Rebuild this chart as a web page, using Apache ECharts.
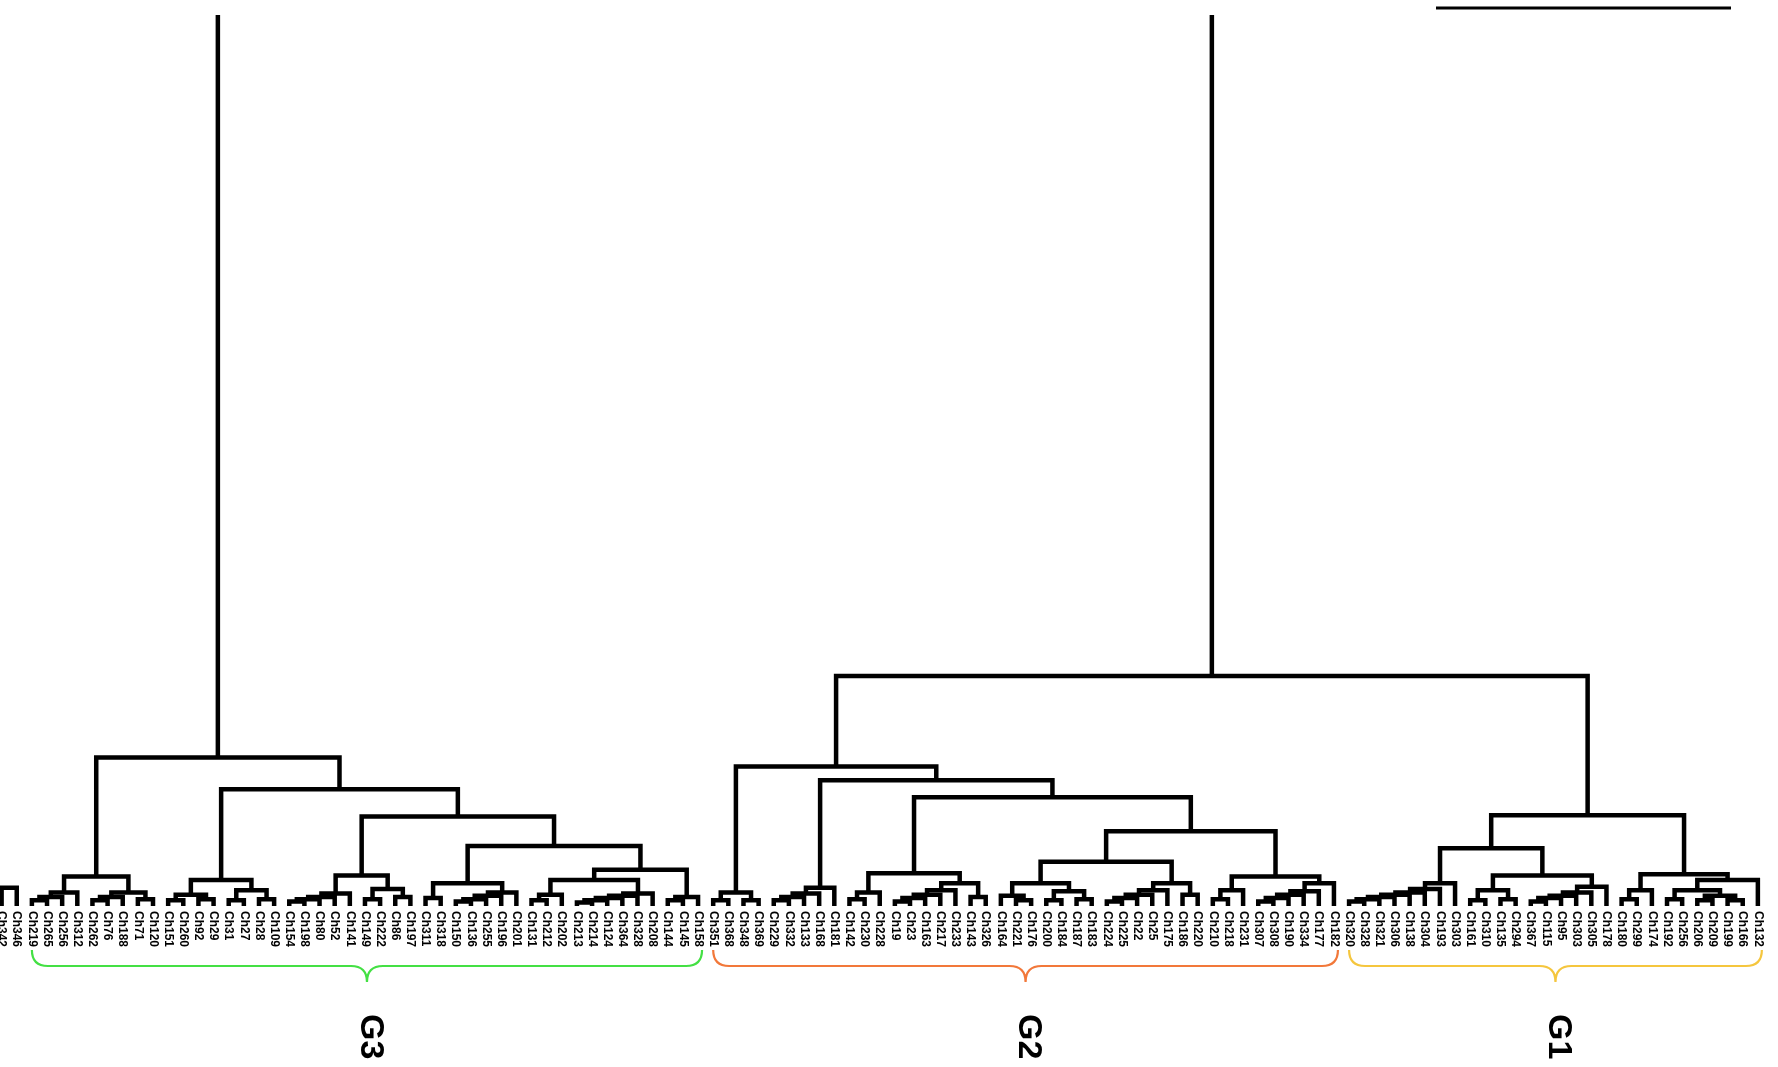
<!DOCTYPE html>
<html><head><meta charset="utf-8">
<script src="https://cdn.jsdelivr.net/npm/echarts@6/dist/echarts.min.js"></script>
<style>html,body{margin:0;padding:0;background:#fff}#c{width:1778px;height:1067px}</style>
</head><body><div id="c"></div>
<script>
// leaf labels, left to right
const leafLabels = [
 'Ch342','Ch346','Ch219','Ch265','Ch256','Ch312','Ch262','Ch76','Ch188','Ch71',
 'Ch120','Ch151','Ch260','Ch92','Ch29','Ch31','Ch27','Ch28','Ch109','Ch154',
 'Ch198','Ch80','Ch52','Ch141','Ch149','Ch222','Ch86','Ch197','Ch311','Ch318',
 'Ch150','Ch136','Ch255','Ch196','Ch201','Ch131','Ch212','Ch202','Ch213','Ch214',
 'Ch124','Ch364','Ch328','Ch208','Ch144','Ch145','Ch158',
 'Ch351','Ch368','Ch348','Ch369','Ch229','Ch332','Ch133','Ch168','Ch181','Ch142',
 'Ch230','Ch228','Ch19','Ch23','Ch163','Ch217','Ch233','Ch143','Ch326','Ch164',
 'Ch221','Ch176','Ch200','Ch184','Ch187','Ch183','Ch224','Ch225','Ch22','Ch25',
 'Ch175','Ch186','Ch220','Ch210','Ch218','Ch231','Ch307','Ch308','Ch190','Ch334',
 'Ch177','Ch182',
 'Ch320','Ch328','Ch321','Ch306','Ch138','Ch304','Ch193','Ch303','Ch161','Ch310',
 'Ch135','Ch294','Ch367','Ch115','Ch95','Ch303','Ch305','Ch178','Ch180','Ch299',
 'Ch174','Ch192','Ch256','Ch206','Ch209','Ch199','Ch166','Ch132'
];
// linkage: [node name, left child, right child, merge height]; numbers are leaf indices
const linkage = [
 ['p0',0,1,1.6],
 ['a1',2,3,0.5],['a2','a1',4,0.8],['a3','a2',5,1.2],
 ['a4',6,7,0.5],['a5','a4',8,0.8],['a6',9,10,0.6],['a7','a5','a6',1.2],
 ['A','a3','a7',2.6],
 ['c1',11,12,0.5],['c2',13,14,0.6],['c3','c1','c2',1.0],
 ['c4',15,16,0.5],['c5',17,18,0.6],['c6','c4','c5',1.4],
 ['C','c3','c6',2.3],
 ['e1',19,20,0.4],['e2','e1',21,0.6],['e3','e2',22,0.8],['e4','e3',23,1.1],
 ['e5',24,25,0.6],['e6',26,27,0.8],['e7','e5','e6',1.5],
 ['E','e4','e7',2.7],
 ['g1',28,29,0.7],
 ['g2',30,31,0.4],['g3','g2',32,0.6],['g4','g3',33,0.9],['g5','g4',34,1.2],
 ['G','g1','g5',2.0],
 ['h1',35,36,0.5],['h2','h1',37,1.0],
 ['h3',38,39,0.3],['h4','h3',40,0.5],['h5','h4',41,0.7],['h6','h5',42,0.9],['h7','h6',43,1.1],
 ['HL','h2','h7',2.3],
 ['h8',44,45,0.5],['h9','h8',46,0.8],
 ['H','HL','h9',3.2],
 ['F','G','H',5.3],
 ['D','E','F',7.9],
 ['B','C','D',10.3],
 ['G3n','A','B',13.1],
 ['q1',47,48,0.5],['q2',49,50,0.5],['Q2a','q1','q2',1.2],
 ['r1',51,52,0.5],['r2','r1',53,0.8],['r3','r2',54,1.1],['r4','r3',55,1.6],
 ['j1',56,57,0.6],['j2','j1',58,1.2],
 ['j3',59,60,0.4],['j4','j3',61,0.7],['j5','j4',62,1.0],['j6','j5',63,1.4],
 ['j7',64,65,0.8],['j8','j6','j7',2.0],
 ['J','j2','j8',2.9],
 ['l1',67,68,0.5],['l2',66,'l1',0.9],['l3',69,70,0.5],['l4',71,72,0.6],['l5','l3','l4',1.3],['l6','l2','l5',2.0],
 ['l7',73,74,0.4],['l8','l7',75,0.7],['l9','l8',76,1.0],['l10','l9',77,1.4],['l11',78,79,1.0],['l12','l10','l11',2.0],
 ['L','l6','l12',3.9],
 ['m1',80,81,0.6],['m2','m1',82,1.4],
 ['m3',83,84,0.4],['m4','m3',85,0.7],['m5','m4',86,1.0],['m6','m5',87,1.3],['m7','m6',88,2.0],
 ['M','m2','m7',2.6],
 ['K','L','M',6.6],
 ['G2c','J','K',9.6],
 ['G2b','r4','G2c',11.1],
 ['G2a','Q2a','G2b',12.3],
 ['o1',89,90,0.4],['o2','o1',91,0.6],['o3','o2',92,0.8],['o4','o3',93,1.0],['o5','o4',94,1.2],['o6','o5',95,1.5],['o7','o6',96,2.0],
 ['s0',97,98,0.5],['s9',99,100,0.6],['p3','s0','s9',1.4],
 ['p4',101,102,0.4],['p5','p4',103,0.7],['p6','p5',104,0.9],['p7','p6',105,1.2],['p8','p7',106,1.7],
 ['P','p3','p8',2.7],
 ['O','o7','P',5.1],
 ['s1',107,108,0.6],['s2','s1',109,1.4],
 ['s3',110,111,0.6],['s4',112,113,0.5],['s5',114,115,0.5],['s6','s4','s5',0.9],['s7','s3','s6',1.4],['s8','s7',116,2.3],
 ['Q','s2','s8',2.8],
 ['N','O','Q',8.0],
 ['G21','G2a','N',20.3],
 ['root','G3n','G21',100]
];
const groupNames = ['G3','G2','G1'];
const groupFirstLeaf = [2, 47, 89];
const groupLastLeaf = [46, 88, 116];
const groupColors = ['#44e044','#f2783a','#f5c63e'];

const nodeX = {}, nodeH = {};
function pos(ref){ return typeof ref === 'number' ? [ref, 0] : [nodeX[ref], nodeH[ref]]; }
const linkData = linkage.map(function(row){
  const a = pos(row[1]), b = pos(row[2]);
  nodeX[row[0]] = (a[0] + b[0]) / 2; nodeH[row[0]] = row[3];
  return [a[0], a[1], b[0], b[1], row[3]];
});

const chart = echarts.init(document.getElementById('c'), null, {renderer:'canvas'});
chart.setOption({
  backgroundColor:'#fff',
  animation:false,
  grid:{left:0,right:0,top:15,bottom:161},
  xAxis:{type:'value',min:-0.106,max:117.33,show:false},
  yAxis:{type:'value',min:0,max:78.6,show:false},
  series:[
    {type:'custom',clip:true,data:linkData,encode:{x:[0,2],y:[1,3,4]},
     renderItem:function(p,api){
       const pts=[api.coord([api.value(0),api.value(1)]),api.coord([api.value(0),api.value(4)]),
                  api.coord([api.value(2),api.value(4)]),api.coord([api.value(2),api.value(3)])];
       return {type:'polyline',shape:{points:pts},style:{stroke:'#000',lineWidth:4.5,fill:null,lineJoin:'miter',lineCap:'butt'}};
     }},
    {type:'custom',clip:false,data:leafLabels.map(function(l,i){return [i];}),encode:{x:0},
     renderItem:function(p,api){
       const c=api.coord([api.value(0),0]);
       return {type:'text',x:c[0],y:c[1]+5,rotation:-Math.PI/2,
         style:{text:leafLabels[p.dataIndex],fill:'#000',font:'bold 12px "Liberation Sans", Arial, sans-serif',align:'left',verticalAlign:'middle'}};
     }},
    {type:'custom',clip:false,data:groupNames.map(function(n,k){return [groupFirstLeaf[k],groupLastLeaf[k]];}),encode:{x:[0,1]},
     renderItem:function(p,api){
       const k=p.dataIndex;
       const a=api.coord([api.value(0),0]), b=api.coord([api.value(1),0]);
       const x1=a[0], x2=b[0]+4, xc=(x1+x2)/2, base=a[1];
       const y0=base+44, y1=base+60, y2=base+76, r=16;
       const d='M'+x1+','+y0+' Q'+x1+','+y1+' '+(x1+r)+','+y1+' L'+(xc-r)+','+y1+' Q'+xc+','+y1+' '+xc+','+y2+
               ' Q'+xc+','+y1+' '+(xc+r)+','+y1+' L'+(x2-r)+','+y1+' Q'+x2+','+y1+' '+x2+','+y0;
       return {type:'group',children:[
         {type:'path',shape:{pathData:d},style:{stroke:groupColors[k],lineWidth:2.2,fill:null}},
         {type:'text',x:xc+3,y:y2+32,rotation:-Math.PI/2,
          style:{text:groupNames[k],fill:'#000',font:'bold 34px "Liberation Sans", Arial, sans-serif',align:'left',verticalAlign:'middle'}}
       ]};
     }}
  ],
  graphic:[{type:'line',shape:{x1:1436,y1:8,x2:1731,y2:8},style:{stroke:'#000',lineWidth:3}}]
});
</script></body></html>
